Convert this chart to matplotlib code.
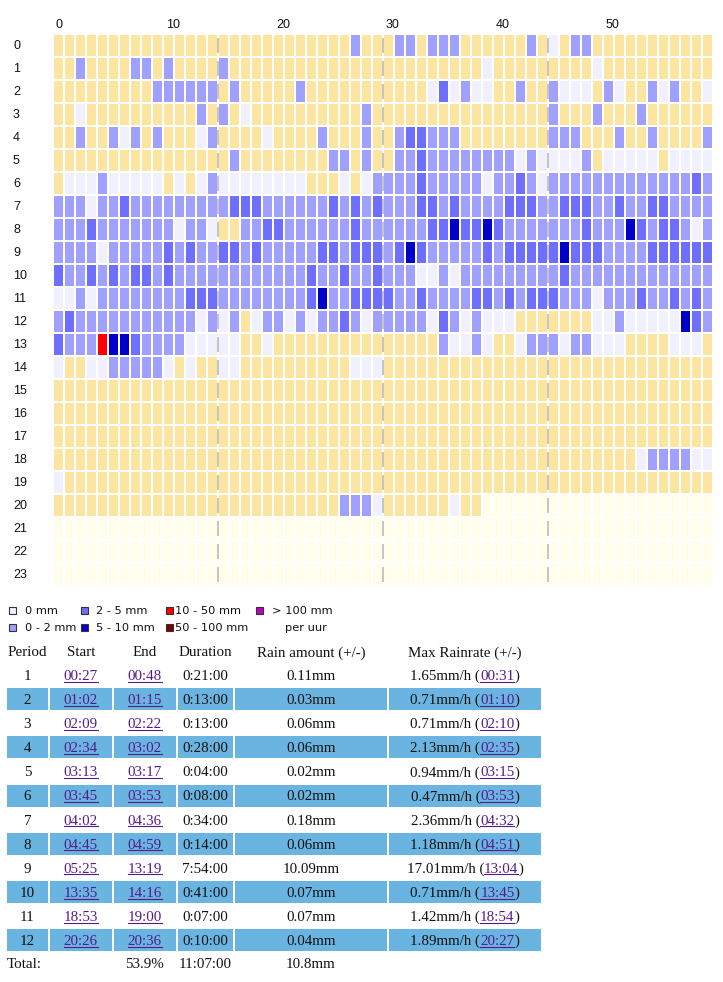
import matplotlib
matplotlib.use("Agg")
import matplotlib.pyplot as plt
from matplotlib.patches import Rectangle

# ---------------- data ----------------
# per-minute rain class for each hour (0..23), 60 minutes each
# '.' dry, '0' 0 mm, '1' 0-2 mm, '2' 2-5 mm, '3' 5-10 mm, '4' 10-50 mm, '-' no data yet
minute_levels = [
    ".......... .......... .......1.. .11.111... ...1.0.11. ..........",
    "..1....11. 1....1.... .......... .........0 .........0 ..........",
    ".........1 11111.1... ..1....... ....020100 ..1..1000. 10..101..0",
    "..0....... ...1.1.0.. ........1. .......... .....1...1 ...1......",
    "..1..101.1 ...01....0 ....1...1. .122111... .....111.. .1..1....1",
    ".......... ......1... .....11.1. .112111111 110100001. 00000.0000",
    ".000100000 .0.0100000 000...0.01 1112111110 1121011111 1111111121",
    "1110112111 1111112221 1111121212 1112212111 1222112221 1211221111",
    "1112111111 10110..112 2111111211 1111223223 2111111121 1132122101",
    "1111011111 2121122121 1111221222 1232111112 1222223222 1111222222",
    "2112121221 2111111111 1112112112 1110010111 1111112111 1111111111",
    "0010111111 1122211111 1112311222 2112111122 1212221110 1112112121",
    "1211111111 1110101.01 1010112101 1111021010 00.......0 0100000321",
    "2111433211 1100000..0 .......... .....10010 ..01110110 00....000.",
    "0..0011111 0.0..00... .......000 .......... .......... ..........",
    ".......... .......... .......... .......... .......... ..........",
    ".......... .......... .......... .......... .......... ..........",
    ".......... .......... .......... .......... .......... ..........",
    ".......... .......... .......... .......... .......... ...0111100",
    "0......... .......... .......... .......... .......... ..........",
    ".......... .......... ......1110 ......0..- ---------- ----------",
    "---------- ---------- ---------- ---------- ---------- ----------",
    "---------- ---------- ---------- ---------- ---------- ----------",
    "---------- ---------- ---------- ---------- ---------- ----------",
]
hours = list(range(24))
minute_ticks = [0, 10, 20, 30, 40, 50]

legend_labels = ["0 mm", "0 - 2 mm", "2 - 5 mm", "5 - 10 mm", "10 - 50 mm", "50 - 100 mm", "> 100 mm"]
legend_codes = ["0", "1", "2", "3", "4", "5", "6"]

periods = list(range(1, 13))
starts = ["00:27", "01:02", "02:09", "02:34", "03:13", "03:45", "04:02", "04:45", "05:25", "13:35", "18:53", "20:26"]
ends = ["00:48", "01:15", "02:22", "03:02", "03:17", "03:53", "04:36", "04:59", "13:19", "14:16", "19:00", "20:36"]
durations = ["0:21:00", "0:13:00", "0:13:00", "0:28:00", "0:04:00", "0:08:00", "0:34:00", "0:14:00",
             "7:54:00", "0:41:00", "0:07:00", "0:10:00"]
rain_amounts = [0.11, 0.03, 0.06, 0.06, 0.02, 0.02, 0.18, 0.06, 10.09, 0.07, 0.07, 0.04]
max_rates = [1.65, 0.71, 0.71, 2.13, 0.94, 0.47, 2.36, 1.18, 17.01, 0.71, 1.42, 1.89]
max_rate_times = ["00:31", "01:10", "02:10", "02:35", "03:15", "03:53", "04:32", "04:51", "13:04", "13:45", "18:54", "20:27"]
total_pct = "53.9%"
total_duration = "11:07:00"
total_rain = "10.8mm"

headers = ["Period", "Start", "End", "Duration", "Rain amount (+/-)", "Max Rainrate (+/-)"]

# ---------------- styles ----------------
level_colors = {
    ".": "#FBE5A0",
    "0": "#F0F0FF",
    "1": "#A0A0FF",
    "2": "#6E6EFF",
    "3": "#0000CD",
    "4": "#FF0000",
    "5": "#800000",
    "6": "#C000C0",
    "-": "#FEFEEB",
}
LINK = "#551A8B"
BAND = "#69B4E0"
SERIF = dict(family="Liberation Serif", fontsize=10.8)

W, H = 723, 982
fig = plt.figure(figsize=(W / 100, H / 100), dpi=100)
fig.patch.set_facecolor("white")

cv = fig.add_axes([0, 0, 1, 1])
cv.set_xlim(0, W)
cv.set_ylim(H, 0)
cv.axis("off")

# ---------------- heatmap ----------------
GX0, GY0, CW, RH = 54, 35, 11, 23
hm = fig.add_axes([GX0 / W, 1 - (GY0 + 24 * RH) / H, 60 * CW / W, 24 * RH / H])
hm.set_xlim(0, 60)
hm.set_ylim(24, 0)
hm.axis("off")

cell_w = 8.6 / CW
cell_h = 21 / RH
for h, row in zip(hours, minute_levels):
    codes = row.replace(" ", "")
    assert len(codes) == 60
    hm.bar(range(60), [cell_h] * 60, width=cell_w, bottom=h, align="edge",
           color=[level_colors[c] for c in codes], linewidth=0, zorder=2)

# quarter-hour dashed separators (one dash per hour row)
for q in (15, 30, 45):
    xq = q - (1 - cell_w) / 2
    hm.vlines([xq] * 24, [h + 0.13 for h in hours], [h + 0.78 for h in hours],
              color="#B4B4B4", linewidth=1.1, zorder=1)

for h in hours:
    hm.text(-41 / CW, h + 0.46, str(h), ha="left", va="center",
            family="Liberation Sans", fontsize=9, color="#111111")
for m in minute_ticks:
    hm.text(m + 2 / CW, -0.43, str(m), ha="left", va="center",
            family="Liberation Sans", fontsize=9, color="#111111")

# ---------------- legend ----------------
sq_x = [9, 81, 166, 256]
tx_x = [25, 96, 175, 272]
leg_y = [611, 628]
for i, (lab, code) in enumerate(zip(legend_labels, legend_codes)):
    col, rw = divmod(i, 2)
    y = leg_y[rw]
    cv.add_patch(Rectangle((sq_x[col], y - 4), 7, 7, facecolor=level_colors[code],
                           edgecolor="#333333", linewidth=0.8))
    cv.text(tx_x[col], y, lab, ha="left", va="center", family="DejaVu Sans",
            fontsize=8.2, color="#111111")
cv.text(285, leg_y[1], "per uur", ha="left", va="center", family="DejaVu Sans",
        fontsize=8.2, color="#111111")

# ---------------- table ----------------
col_bounds = [(7, 47.7), (50, 111.7), (114, 175.7), (178, 232.7), (235, 386.7), (389, 540.7)]
col_c = [(a + b) / 2 for a, b in col_bounds]
renderer = fig.canvas.get_renderer()


def rich(xc, yb, parts):
    ts = [cv.text(0, yb, s, color=c, ha="left", va="baseline", **SERIF) for s, c, u in parts]
    ws = [t.get_window_extent(renderer).width for t in ts]
    x = xc - sum(ws) / 2
    for t, w, (s, c, u) in zip(ts, ws, parts):
        t.set_x(x)
        if u:
            cv.plot([x, x + w], [yb + 1.6, yb + 1.6], color=c, linewidth=0.8)
        x += w


head_base = 656.5
for c, hd in zip(col_c, headers):
    cv.text(c, head_base, hd, ha="center", va="baseline", color="#111111", **SERIF)

row_pitch = 24.1
for i, p in enumerate(periods):
    yc = 675 + row_pitch * i
    yb = yc + 5
    if p % 2 == 0:
        for a, b in col_bounds:
            cv.add_patch(Rectangle((a, yc - 11), b - a, 22, facecolor=BAND, edgecolor="none"))
    rich(col_c[0], yb, [(str(p), "#111111", False)])
    rich(col_c[1], yb, [(starts[i], LINK, True)])
    rich(col_c[2], yb, [(ends[i], LINK, True)])
    rich(col_c[3], yb, [(durations[i], "#111111", False)])
    rich(col_c[4], yb, [(f"{rain_amounts[i]:.2f}mm", "#111111", False)])
    rich(col_c[5], yb, [(f"{max_rates[i]:.2f}mm/h (", "#111111", False),
                        (max_rate_times[i], LINK, True),
                        (")", "#111111", False)])

ty = 963 + 5
cv.text(7, ty, "Total:", ha="left", va="baseline", color="#111111", **SERIF)
cv.text(col_c[2], ty, total_pct, ha="center", va="baseline", color="#111111", **SERIF)
cv.text(col_c[3], ty, total_duration, ha="center", va="baseline", color="#111111", **SERIF)
cv.text(col_c[4], ty, total_rain, ha="center", va="baseline", color="#111111", **SERIF)

fig.savefig("out.png", dpi=100, facecolor="white")
